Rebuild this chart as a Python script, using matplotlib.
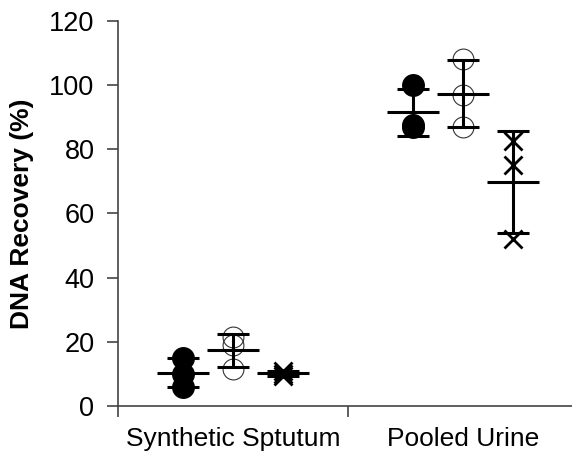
import matplotlib.pyplot as plt
import numpy as np

# data
groups = ['Synthetic Sptutum', 'Pooled Urine']
filled_pts = [[15.0, 10.0, 6.0], [100.0, 87.0, 87.5]]
open_pts = [[21.5, 19.0, 11.5], [108.0, 97.0, 87.0]]
cross_pts = [[11.0, 10.0, 9.5], [82.5, 75.0, 52.0]]
yticks = [0, 20, 40, 60, 80, 100, 120]

plt.rcParams['font.family'] = ['Liberation Sans', 'DejaVu Sans']

fig = plt.figure(figsize=(5.72, 4.54), dpi=100)
ax = fig.add_axes([118 / 572, 48 / 454, 460 / 572, 385 / 454])

centers = np.array([0.5, 1.5])
offset = 0.217
half = 0.113

series = [
    (filled_pts, -offset, dict(marker='o', markersize=15.5, color='black', linestyle='none')),
    (open_pts, 0.0, dict(marker='o', markersize=15, markerfacecolor='none',
                         markeredgecolor='#333333', markeredgewidth=0.8, linestyle='none')),
    (cross_pts, offset, dict(marker='x', markersize=13, markeredgewidth=2,
                             color='black', linestyle='none')),
]

for pts, off, style in series:
    for i, vals in enumerate(pts):
        x = centers[i] + off
        ax.plot([x] * len(vals), vals, zorder=2, **style)
        m = np.mean(vals)
        sd = np.std(vals, ddof=1)
        ax.errorbar(x, m, yerr=sd, fmt='none', ecolor='black', elinewidth=2.2,
                    capsize=11.5, capthick=2.2, zorder=3)
        ax.hlines(m, x - half, x + half, colors='black', linewidth=2.2, zorder=3)

ax.set_xlim(0, 2)
ax.set_ylim(0, 120)
ax.set_yticks(yticks)
ax.set_xticks([0, 1, 2])
ax.set_xticklabels([])
ax.set_xticks(centers, minor=True)
ax.set_xticklabels(groups, minor=True)
ax.tick_params(axis='x', which='minor', length=0, pad=15, labelsize=19)
ax.tick_params(axis='x', which='major', length=8, width=1.2, color='#444444')
ax.tick_params(axis='y', length=8, width=1.2, color='#444444', labelsize=19.5, pad=9)

for s in ['top', 'right']:
    ax.spines[s].set_visible(False)
for s in ['left', 'bottom']:
    ax.spines[s].set_color('#444444')
    ax.spines[s].set_linewidth(1.2)

ax.set_ylabel('DNA Recovery (%)', fontsize=19, fontweight='bold', labelpad=11)

fig.savefig('out.png', dpi=100)
